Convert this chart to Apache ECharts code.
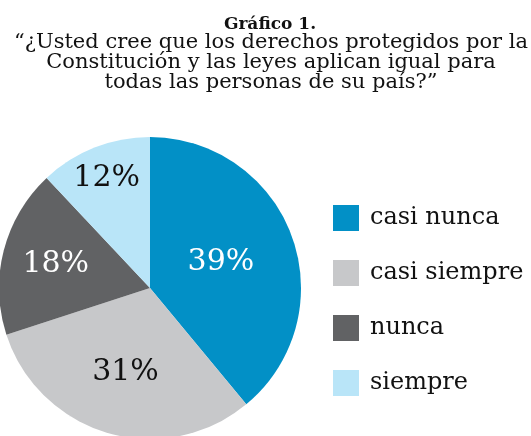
<!DOCTYPE html>
<html>
<head>
<meta charset="utf-8">
<script src="https://cdn.jsdelivr.net/npm/echarts@6/dist/echarts.min.js"></script>
<style>
  html, body { margin: 0; padding: 0; background: #fff; }
  #chart { width: 531px; height: 436px; }
</style>
</head>
<body>
<div id="chart"></div>
<script>
  // datos del gráfico
  const categories = ["casi nunca", "casi siempre", "nunca", "siempre"];
  const values = [39, 31, 18, 12];
  const colors = ["#0290C6", "#C7C8CA", "#616264", "#B9E5F8"];
  const labelColors = ["#fff", "#111", "#fff", "#111"];

  // qué tan lejos del centro va cada etiqueta (fracción del radio)
  const labelDist = [0.48, 0.56, 0.62, 0.75];
  const cx = 150, cy = 288, r = 151;

  const chart = echarts.init(document.getElementById("chart"));

  const option = {
    animation: false,
    title: [
      {
        text: "Gráfico 1.",
        left: 265,
        top: 11,
        textAlign: "center",
        textStyle: { fontFamily: "DejaVu Serif", fontSize: 17, fontWeight: "bold", color: "#111" }
      },
      {
        text: "“¿Usted cree que los derechos protegidos por la\nConstitución y las leyes aplican igual para\ntodas las personas de su país?”",
        left: 266,
        top: 28,
        textAlign: "center",
        textStyle: { fontFamily: "DejaVu Serif", fontSize: 21, fontWeight: "normal", lineHeight: 20, color: "#111" }
      }
    ],
    legend: {
      orient: "vertical",
      left: 328,
      top: 200,
      icon: "rect",
      itemWidth: 26,
      itemHeight: 26,
      itemGap: 29,
      selectedMode: false,
      textStyle: { fontFamily: "DejaVu Serif", fontSize: 24, color: "#111", padding: [0, 0, 0, 6] },
      data: categories
    },
    series: [
      {
        type: "pie",
        center: [cx, cy],
        radius: r,
        startAngle: 90,
        clockwise: true,
        emphasis: { disabled: true },
        label: {
          position: "inside",
          formatter: "{c}%",
          fontFamily: "DejaVu Serif",
          fontSize: 30
        },
        labelLayout: (p) => {
          const lx = p.labelRect.x + p.labelRect.width / 2;
          const ly = p.labelRect.y + p.labelRect.height / 2;
          const k = labelDist[p.dataIndex] / 0.5;
          return { x: cx + (lx - cx) * k, y: cy + (ly - cy) * k };
        },
        data: categories.map((name, i) => ({
          name,
          value: values[i],
          itemStyle: { color: colors[i], borderWidth: 0 },
          label: { color: labelColors[i] }
        }))
      }
    ]
  };

  chart.setOption(option);
</script>
</body>
</html>
